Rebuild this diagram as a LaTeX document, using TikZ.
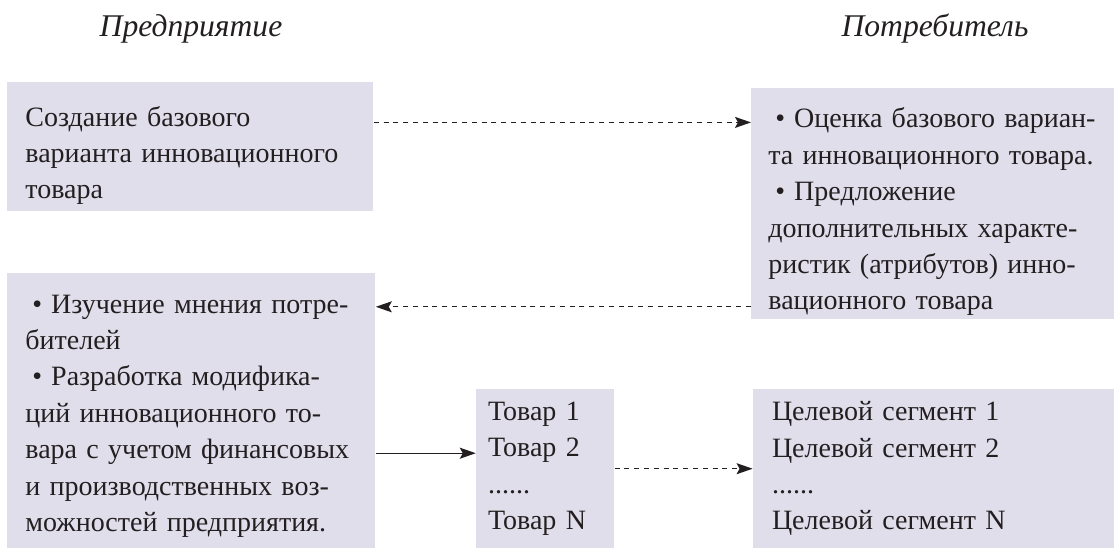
\documentclass[tikz,border=0pt]{standalone}
\usepackage{fontspec}
\setmainfont{Liberation Serif}
\usetikzlibrary{arrows.meta, positioning}
\definecolor{boxfill}{RGB}{225,222,236}
\definecolor{inkcol}{RGB}{35,31,32}
\newcommand{\bulletmark}{\hspace*{3.5pt}•\hspace{4.5pt}}
\newcommand{\topgap}[1]{\rule{0pt}{#1}}

\begin{document}
\begin{tikzpicture}[
  x=1pt, y=1pt,
  box/.style={fill=boxfill, text=inkcol, align=left, inner xsep=9pt, inner ysep=0pt,
    font=\fontsize{14pt}{18.2pt}\selectfont},
  heading/.style={text=inkcol, font=\fontsize{15.8pt}{18pt}\selectfont\itshape},
  arrow/.style={draw=inkcol, line width=0.6pt, -{Stealth[length=8pt, width=5.5pt, inset=1.5pt]}},
  dasharrow/.style={arrow, dash pattern=on 2.5pt off 2.4pt}
]
\useasboundingbox (0,0) rectangle (557,-273.5);

% Headings
\node[heading] (firm) at (95.5,-14.5) {Предприятие};
\node[heading] (client) at (467.5,-14.5) {Потребитель};

% Boxes
\node[box, anchor=north west, text width=165pt, minimum height=64.5pt] (base) at (3.5,-41)
  {\topgap{18.5pt}Создание базового\\варианта инновационного\\товара};
\node[box, anchor=north west, inner xsep=8.5pt, text width=164.5pt, minimum height=115.5pt] (rating) at (375.5,-44)
  {\topgap{18pt}\bulletmark Оценка базового вариан-\\та инновационного товара.\\\bulletmark Предложение\\дополнительных характе-\\ристик (атрибутов) инно-\\вационного товара};
\node[box, below=30.5pt of base.south west, anchor=north west, text width=166pt, minimum height=137.5pt] (study)
  {\topgap{14.5pt}\bulletmark Изучение мнения потре-\\бителей\\\bulletmark Разработка модифика-\\ций инновационного то-\\вара с учетом финансовых\\и производственных воз-\\можностей предприятия.};
\node[box, right=50pt of study.south east, anchor=south west, inner xsep=6pt, text width=57pt, minimum height=79.5pt] (goods)
  {Товар 1\\Товар 2\\......\\Товар N};
\node[box, right=69pt of goods.south east, anchor=south west, inner xsep=9.5pt, text width=162.5pt, minimum height=79.5pt] (segments)
  {Целевой сегмент 1\\Целевой сегмент 2\\......\\Целевой сегмент N};

% Arrows
\draw[dasharrow] ([yshift=12.25pt]base.east) -- ([yshift=12.25pt]base.east -| rating.west);
\draw[dasharrow] ([yshift=6.5pt]rating.south west) -- ([yshift=6.5pt]rating.south west -| study.east);
\draw[arrow] ([yshift=7.75pt]goods.west -| study.east) -- ([yshift=7.75pt]goods.west);
\draw[dasharrow] (goods) -- (segments);

\end{tikzpicture}
\end{document}
